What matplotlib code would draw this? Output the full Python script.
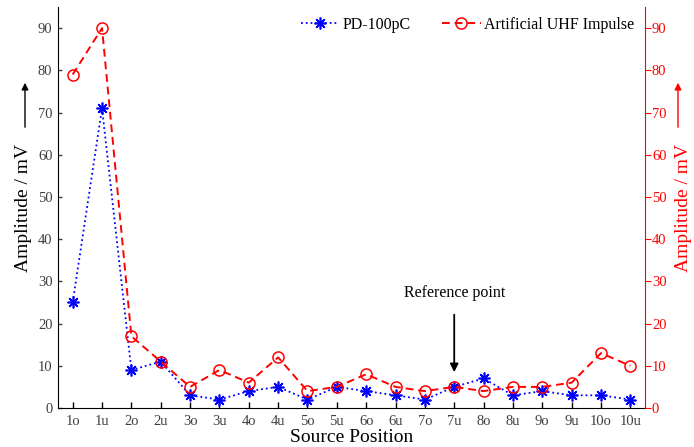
import matplotlib
matplotlib.use('Agg')
import matplotlib.pyplot as plt

plt.rcParams['font.family'] = ['Liberation Serif', 'DejaVu Serif']

positions = ['1o', '1u', '2o', '2u', '3o', '3u', '4o', '4u', '5o', '5u',
             '6o', '6u', '7o', '7u', '8o', '8u', '9o', '9u', '10o', '10u']
pd_100pc = [25, 71, 9, 11, 3, 2, 4, 5, 2, 5, 4, 3, 2, 5, 7, 3, 4, 3, 3, 2]
uhf_impulse = [79, 90, 17, 11, 5, 9, 6, 12, 4, 5, 8, 5, 4, 5, 4, 5, 5, 6, 13, 10]
yticks = [0, 10, 20, 30, 40, 50, 60, 70, 80, 90]
ref_idx = positions.index('7u')

x = list(range(len(positions)))

fig = plt.figure(figsize=(6.94, 4.47), dpi=100)
ax = fig.add_axes([58/694, 39/447, 587/694, 401/447])
ax2 = ax.twinx()

l1, = ax.plot(x, pd_100pc, color='blue', linestyle=':', linewidth=1.3,
              marker=(8, 2, 0), markersize=8.5, markeredgewidth=1.2,
              label='PD-100pC')
l2, = ax2.plot(x, uhf_impulse, color='red', linestyle='--', dashes=(4, 2.5),
               linewidth=1.4, marker='o', markersize=8, markerfacecolor='none',
               markeredgewidth=1.1, label='Artificial UHF Impulse')

for a in (ax, ax2):
    a.set_xlim(-0.5, len(positions) - 0.5)
    a.set_ylim(0, 95)
    a.spines['top'].set_visible(False)

ax.set_xticks(x)
ax.set_xticklabels(positions)
ax.set_yticks(yticks)
ax.tick_params(axis='x', direction='in', length=4, width=1, colors='black',
               labelcolor='#404040', labelsize=10.5, pad=5)
ax.tick_params(axis='y', direction='in', length=3, width=1, colors='#404040',
               labelcolor='#404040', labelsize=10.5, pad=4)
ax.spines['right'].set_visible(False)
ax.spines['left'].set_color('black')
ax.spines['bottom'].set_color('black')

ax2.set_yticks(yticks)
ax2.spines['left'].set_visible(False)
ax2.spines['bottom'].set_visible(False)
ax2.spines['right'].set_color('red')
ax2.tick_params(axis='y', direction='out', length=4, colors='red',
                labelcolor='red', labelsize=10.5, pad=1)

ax.set_xlabel('Source Position', fontsize=14, labelpad=1)
ax.set_ylabel('Amplitude / mV', fontsize=14, labelpad=4)
ax2.set_ylabel('Amplitude / mV', fontsize=14, color='red', labelpad=6)

# arrows next to the axis labels
fig.patches.append(matplotlib.patches.FancyArrowPatch(
    (25/694, 1 - 130/447), (25/694, 1 - 80/447), transform=fig.transFigure,
    arrowstyle='-|>', mutation_scale=10, color='black', linewidth=1))
fig.patches.append(matplotlib.patches.FancyArrowPatch(
    (678/694, 1 - 130/447), (678/694, 1 - 80/447), transform=fig.transFigure,
    arrowstyle='-|>', mutation_scale=10, color='red', linewidth=1))

ax2.annotate('Reference point', xy=(ref_idx, 8.5), xytext=(ref_idx, 27.3),
             ha='center', va='center', fontsize=11.5,
             arrowprops=dict(arrowstyle='-|>', color='black', lw=1.3,
                             shrinkA=8, shrinkB=0, mutation_scale=12))

ax2.legend([l1, l2], ['PD-100pC', 'Artificial UHF Impulse'], ncol=2,
           loc='upper right', bbox_to_anchor=(0.981, 0.975), frameon=False,
           fontsize=11.5, handlelength=2.4, handletextpad=0.2,
           columnspacing=2.0, borderpad=0, borderaxespad=0)

fig.savefig('out.png', dpi=100)
